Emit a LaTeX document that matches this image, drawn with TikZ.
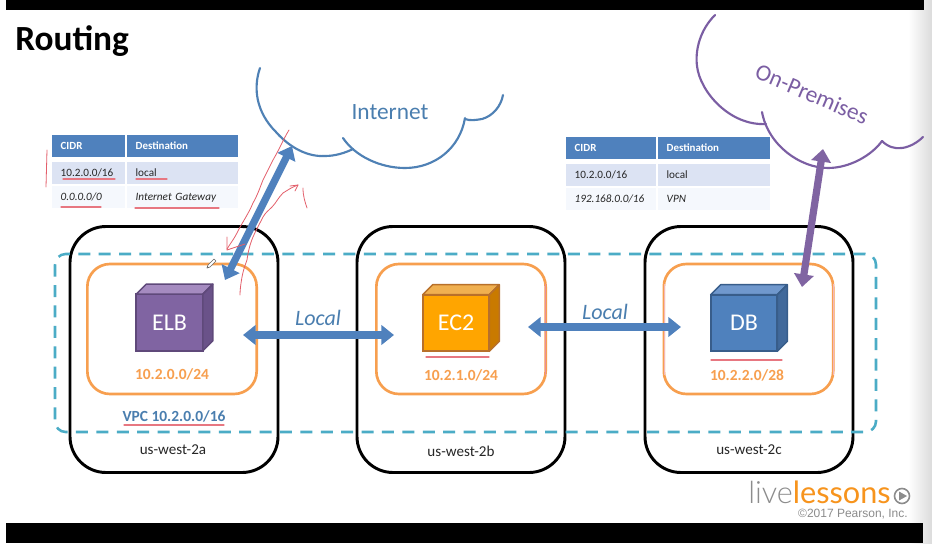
\documentclass[tikz,border=0pt]{standalone}
\usepackage{fontspec}
\setmainfont{Carlito}
\newfontfamily\logofont{Lato Light}
\newfontfamily\logobold{Lato}
\newfontfamily\copyfont{Liberation Sans}
\usetikzlibrary{arrows.meta,calc}
\definecolor{hdr}{HTML}{4F81BD}
\definecolor{rowa}{HTML}{DCE3F3}
\definecolor{rowb}{HTML}{F5F8FD}
\definecolor{cloudblue}{HTML}{4F81B5}
\definecolor{cloudpurple}{HTML}{7B5EA3}
\definecolor{txtblue}{HTML}{4A7EAF}
\definecolor{subnetorange}{HTML}{F79F4F}
\definecolor{dashblue}{HTML}{4BACC6}
\definecolor{inkred}{HTML}{E35F6B}
\definecolor{logoorange}{HTML}{F7941D}
\definecolor{logogray}{HTML}{8C8C8C}
\definecolor{purplefront}{HTML}{8064A2}
\definecolor{purpletop}{HTML}{A58BC0}
\definecolor{purpleside}{HTML}{6A5289}
\definecolor{purpleedge}{HTML}{5F497A}
\definecolor{orangefront}{HTML}{FFA500}
\definecolor{orangetop}{HTML}{F0B050}
\definecolor{orangeside}{HTML}{C97A00}
\definecolor{orangeedge}{HTML}{B8702A}
\definecolor{bluefront}{HTML}{4F81BD}
\definecolor{bluetop}{HTML}{7098CD}
\definecolor{blueside}{HTML}{41699B}
\definecolor{blueedge}{HTML}{385D8A}
\newcommand{\fsz}[1]{\fontsize{#1}{#1}\selectfont}
\newcommand{\boxcube}[8]{%
  \node[cubefront,fill=#5,draw=#8] (#1) at (#2,#3) {#4};
  \fill[#6,draw=#8,cubeedge] (#1.north west) -- ([shift={(10,-10)}]#1.north west) -- ([shift={(10,-10)}]#1.north east) -- (#1.north east) -- cycle;
  \fill[#7,draw=#8,cubeedge] (#1.north east) -- ([shift={(10,-10)}]#1.north east) -- ([shift={(10,-10)}]#1.south east) -- (#1.south east) -- cycle;
}
\tikzset{
  zonebox/.style={draw=black,line width=2.2pt,rounded corners=27pt,minimum width=156pt,minimum height=184.5pt,inner sep=0pt,outer sep=0pt},
  subnetbox/.style={draw=subnetorange,line width=2pt,rounded corners=17pt,minimum width=127pt,minimum height=97.5pt,inner sep=0pt,outer sep=0pt},
  vpcbox/.style={draw=dashblue,line width=1.9pt,rounded corners=8pt,dash pattern=on 9pt off 6.3pt},
  cubefront/.style={line width=1.3pt,minimum width=50pt,minimum height=42.5pt,inner sep=0pt,outer sep=0pt,text=white,font=\fsz{18}},
  cubeedge/.style={line width=1.1pt,line join=round},
  subnetlabel/.style={text=subnetorange,font=\bfseries\fsz{11.6},inner sep=0pt},
  zonelabel/.style={text=black!85,font=\fsz{11.3},inner sep=0pt},
  locallabel/.style={text=txtblue,font=\itshape\fsz{16.5},inner sep=0pt},
  cloudline/.style={line width=1.6pt,line cap=round},
  biarrow/.style={line width=5.4pt,{Triangle[length=9.5pt,width=14.5pt]}-{Triangle[length=9.5pt,width=14.5pt]}},
  tcell/.style={inner sep=0pt,outer sep=0pt,anchor=north west,minimum height=16.5pt,text height=6pt,text depth=1.5pt,align=left,inner xsep=6.5pt},
  thead/.style={tcell,fill=hdr,text=white,font=\bfseries\fsz{8.2}},
  trowa/.style={tcell,fill=rowa,text=black!85,font=\fsz{8.4}},
  trowb/.style={tcell,fill=rowb,text=black!85,font=\itshape\fsz{8.4}},
  inkline/.style={draw=inkred,line width=0.6pt,line cap=round,line join=round},
  inkunder/.style={draw=inkred!85,line width=0.9pt,line cap=round},
}
\begin{document}
\begin{tikzpicture}[x=0.75pt,y=-0.75pt]
\useasboundingbox (0,0) rectangle (932,543);
\fill[white] (0,0) rectangle (932,543);
\shade[left color=white,right color=black!14] (908,0) rectangle (932,543);
\fill[black] (6,0) rectangle (924,10);
\fill[black] (6,523) rectangle (923,543);

\node[anchor=base west,inner sep=0pt,font=\bfseries\fsz{26.5}] (title) at (15,50) {Routing};

% availability zones
\node[zonebox] (za) at (174,349.5) {};
\node[zonebox] (zb) at (461,349.5) {};
\node[zonebox] (zc) at (749,349.5) {};
% subnets
\node[subnetbox] (sa) at (172,329) {};
\node[subnetbox] (sb) at (461,329) {};
\node[subnetbox] (sc) at (748.5,329) {};
\draw[inkred!70,line width=0.7pt] (545.7,284) -- (545.7,375);
\draw[inkred!45,line width=0.7pt] (833.7,284) -- (833.7,375);
\draw[inkred!45,line width=0.7pt] (664.3,284) -- (664.3,375);
% VPC
\draw[vpcbox] (55,254) rectangle (876,432);

% cubes
\boxcube{elb}{169.5}{322.5}{ELB}{purplefront}{purpletop}{purpleside}{purpleedge}
\boxcube{ec}{456}{323}{EC2}{orangefront}{orangetop}{orangeside}{orangeedge}
\boxcube{db}{744}{323}{DB}{bluefront}{bluetop}{blueside}{blueedge}

% labels
\node[subnetlabel] (la) at (172,374) {10.2.0.0/24};
\node[subnetlabel] (lb) at (461,375) {10.2.1.0/24};
\node[subnetlabel] (lc) at (747,375) {10.2.2.0/28};
\node[inner sep=0pt,text=txtblue,font=\bfseries\fsz{11.6}] (vpc) at (174,416) {VPC 10.2.0.0/16};
\node[zonelabel] (ta) at (173,450) {us-west-2a};
\node[zonelabel] (tb) at (461,451) {us-west-2b};
\node[zonelabel] (tc) at (749,450) {us-west-2c};
\node[locallabel] (lo1) at (318,318) {Local};
\node[locallabel] (lo2) at (605,312) {Local};

% tables
\node[thead,text width=41.75pt] (a11) at (52,135) {CIDR};
\node[thead,text width=70.25pt] (a12) at (127,135) {Destination};
\node[trowa,text width=41.75pt] (a21) at (52,162) {10.2.0.0/16};
\node[trowa,text width=70.25pt] (a22) at (127,162) {local};
\node[trowb,text width=41.75pt] (a31) at (52,186) {0.0.0.0/0};
\node[trowb,text width=70.25pt] (a32) at (127,186) {Internet Gateway};
\node[thead,text width=54.5pt] (b11) at (566,137) {CIDR};
\node[thead,text width=71pt] (b12) at (658,137) {Destination};
\node[trowa,text width=54.5pt] (b21) at (566,164) {10.2.0.0/16};
\node[trowa,text width=71pt] (b22) at (658,164) {local};
\node[trowb,text width=54.5pt] (b31) at (566,188) {192.168.0.0/16};
\node[trowb,text width=71pt] (b32) at (658,188) {VPN};

% Internet cloud
\draw[cloudline,cloudblue] (260,68) .. controls (253,88) and (256,112) .. (276,132) .. controls (290,148) and (308,157) .. (325,156) .. controls (335,156) and (345,153) .. (353,149);
\draw[cloudline,cloudblue] (343,138) .. controls (355,156) and (380,168) .. (405,168) .. controls (435,168) and (460,148) .. (465,118);
\draw[cloudline,cloudblue] (465,119) .. controls (470,121) and (476,120) .. (482,119) .. controls (493,116) and (501,106) .. (503,95);
\node[inner sep=0pt,text=txtblue,font=\fsz{17.5}] (inet) at (390,112) {Internet};

% On-Premises cloud
\draw[cloudline,cloudpurple] (715,15) .. controls (700,30) and (695,50) .. (697,66) .. controls (700,92) and (730,126) .. (766,124);
\draw[cloudline,cloudpurple] (762,112) .. controls (768,145) and (800,168) .. (828,168) .. controls (850,168) and (872,155) .. (882,141);
\draw[cloudline,cloudpurple] (882,141) .. controls (888,147) and (895,149) .. (902,148) .. controls (910,147) and (918,142) .. (923,137);
\node[inner sep=0pt,text=cloudpurple,rotate=-23,font=\fsz{17.5}] (onprem) at (812,94) {On-Premises};

% arrows
\coordinate (inettip) at (292,146);
\coordinate (elbtip) at (225,280);
\coordinate (l1a) at (243,335);
\coordinate (l1b) at (394,335);
\coordinate (l2a) at (528,327);
\coordinate (l2b) at (681,327);
\coordinate (premtip) at (823,149);
\coordinate (dbtip) at (802,287);
\draw[biarrow,hdr] (elbtip) -- (inettip);
\draw[biarrow,hdr] (l1a) -- (l1b);
\draw[biarrow,hdr] (l2a) -- (l2b);
\draw[biarrow,purplefront] (dbtip) -- (premtip);

% red pen marks
\draw[inkunder] (63,179) -- (115,179);
\draw[inkunder] (136,179) -- (167,179);
\draw[inkunder] (61,207) -- (101,207);
\draw[inkunder] (135,208) -- (219,208);
\draw[inkline] (47,150) -- (46,187);
\draw[inkline] (303,188) .. controls (303,196) and (305,202) .. (307,208);
\draw[inkline] (289,130) .. controls (284,138) and (280,148) .. (273,160) .. controls (268,170) and (266,174) .. (263,180) .. controls (259,190) and (258,194) .. (253,203) .. controls (248,215) and (240,226) .. (237,233) .. controls (234,239) and (230,244) .. (227,249);
\draw[inkline] (227,237) -- (227,250) -- (245,244);
\draw[inkline] (298,185) .. controls (292,187) and (288,190) .. (283,193) .. controls (278,198) and (276,203) .. (272,207) .. controls (268,211) and (266,212) .. (263,217) .. controls (259,225) and (256,230) .. (253,237) .. controls (250,244) and (248,252) .. (247,260) .. controls (244,268) and (243,272) .. (242,277) .. controls (241,283) and (240,289) .. (240,295);
\draw[inkline] (290,186) -- (298,185) -- (295,191);
\draw[inkunder] (124,425) -- (224,425);
\draw[inkunder] (426,357) -- (489,357);
\draw[inkunder] (711,360) -- (782,360);

% pen cursor
\draw[black!60,fill=white,line width=0.5pt,line join=round] (207,268) -- (208,265) -- (214,259) -- (216,261) -- (210,267) -- cycle;

% logo
\node[anchor=base west,inner sep=0pt,font=\fsz{23}] (logo) at (748,503) {\textcolor{logogray}{\logofont live}\textcolor{logoorange}{\logobold lessons}};
\draw[logogray,line width=1.2pt] (902,496) circle (7.5);
\fill[logogray] (899,491.5) -- (907,496) -- (899,500.5) -- cycle;
\node[anchor=base east,inner sep=0pt,text=logogray,font=\copyfont\fsz{9}] (copy) at (908,517) {©2017 Pearson, Inc.};
\end{tikzpicture}
\end{document}
